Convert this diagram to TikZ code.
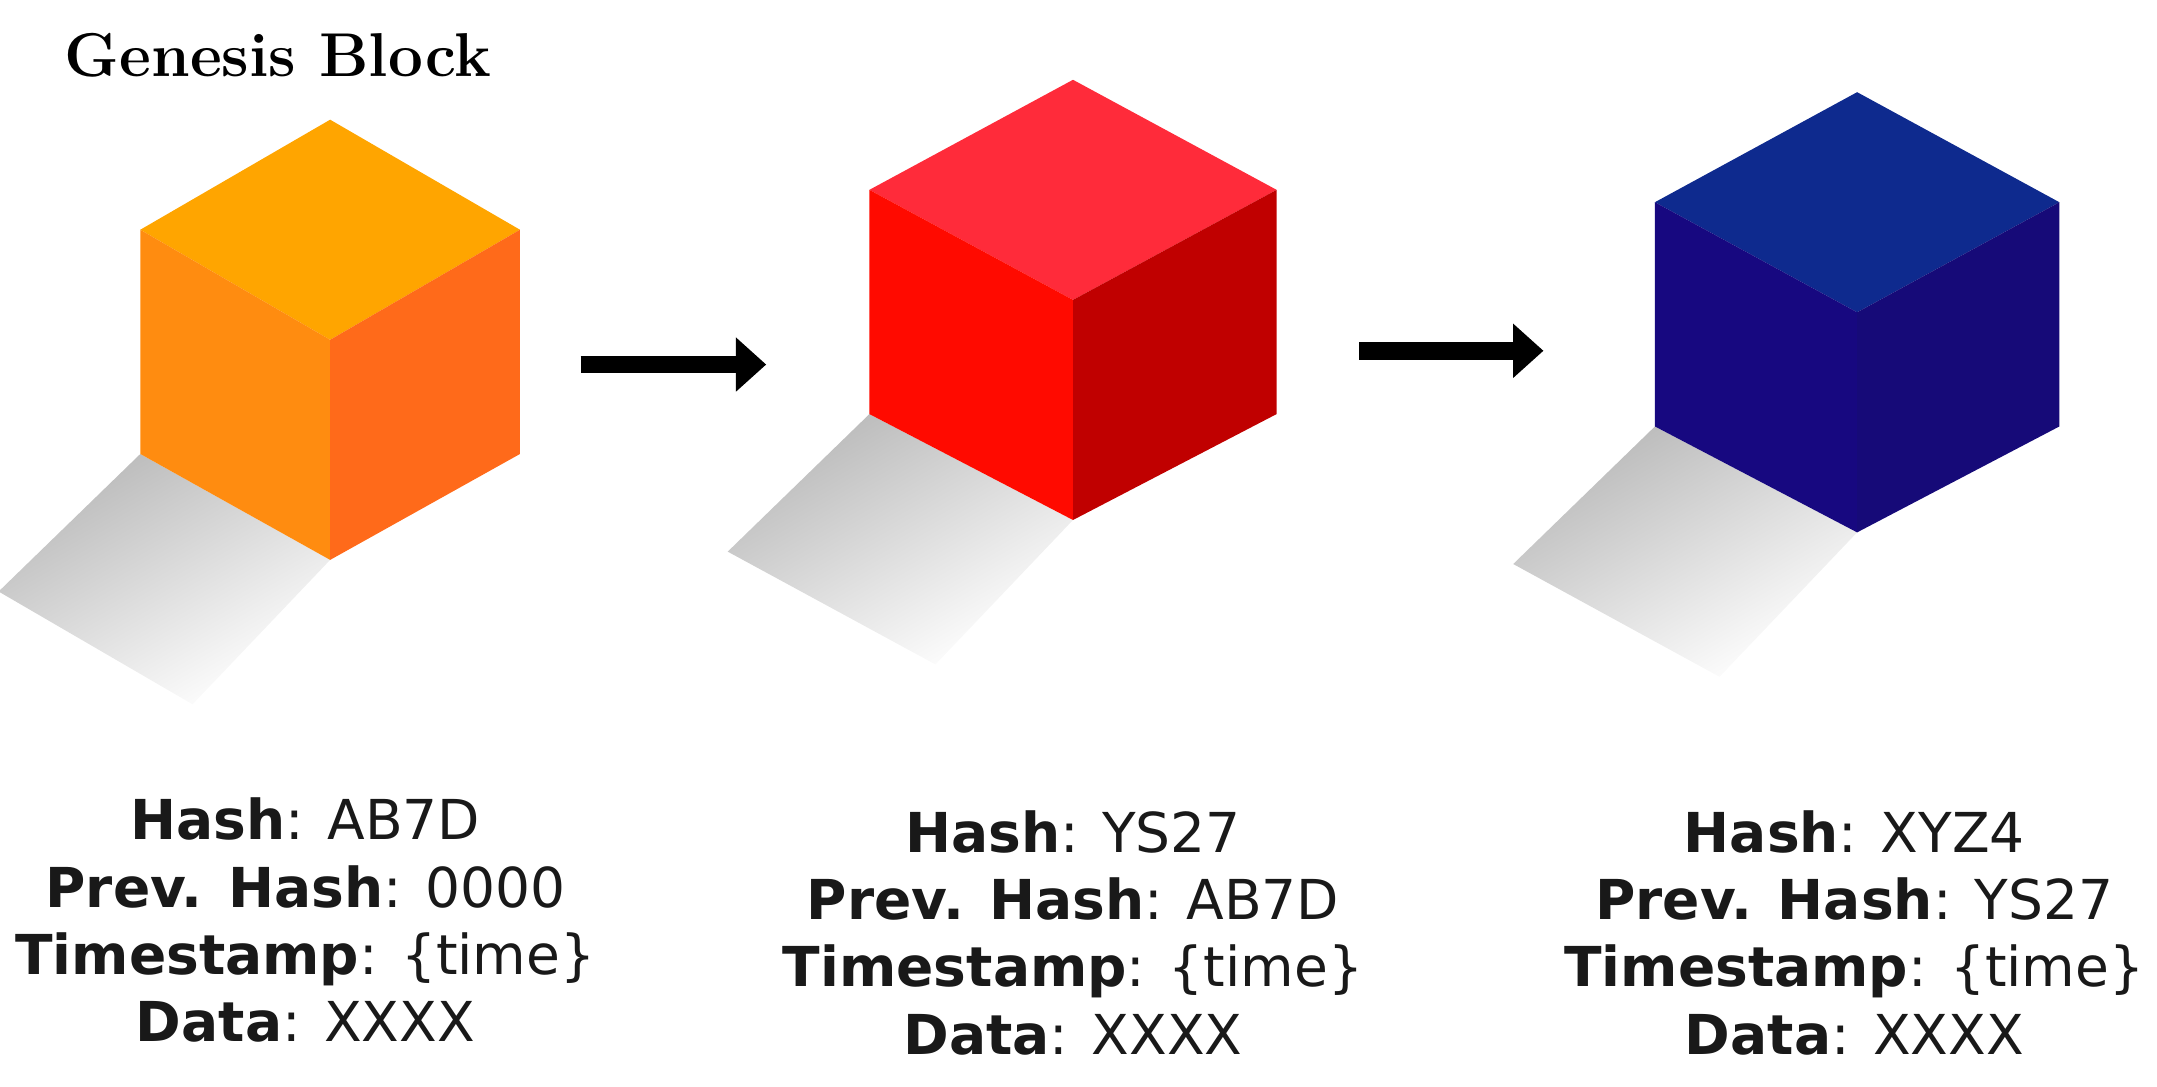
\documentclass[tikz,border=0pt]{standalone}
\usepackage{fontspec}
\newfontfamily\lblfont{DejaVu Sans}
\usetikzlibrary{arrows.meta}
\begin{document}
\begin{tikzpicture}[x=1pt,y=-1pt,
  lbl/.style={font=\lblfont\fontsize{40}{49}\selectfont,align=center,text=black!90},
  chainarrow/.style={line width=13pt,-{Triangle[length=22pt,width=38pt]}}]
\useasboundingbox (0,0) rectangle (1568,790);
\definecolor{oT}{HTML}{FFA500}\definecolor{oL}{HTML}{FF8C10}\definecolor{oR}{HTML}{FF6A1A}
\definecolor{rT}{HTML}{FF2B3A}\definecolor{rL}{HTML}{FF0A00}\definecolor{rR}{HTML}{C00000}
\definecolor{bT}{HTML}{0E2A8E}\definecolor{bL}{HTML}{170880}\definecolor{bR}{HTML}{160A78}
\newcommand{\mycube}[7]{%
  \shade[top color=gray!55,bottom color=white,shading angle=30] (#1-#3,#2+243) -- (#1,#2+320) -- (#1-100,#2+425) -- (#1-#3-103,#2+343) -- cycle;
  \fill[#5] (#1,#2) -- (#1+#3,#2+80) -- (#1,#2+160) -- (#1-#3,#2+80) -- cycle;
  \fill[#6] (#1-#3,#2+80) -- (#1,#2+160) -- (#1,#2+320) -- (#1-#3,#2+243) -- cycle;
  \fill[#7] (#1+#3,#2+80) -- (#1,#2+160) -- (#1,#2+320) -- (#1+#3,#2+243) -- cycle;
  \coordinate (#4) at (#1,#2+170);}
\mycube{240}{87}{138}{c1}{oT}{oL}{oR}
\mycube{780}{58}{148}{c2}{rT}{rL}{rR}
\mycube{1350}{67}{147}{c3}{bT}{bL}{bR}
\coordinate (a1s) at (422,265); \coordinate (a1e) at (557,265);
\coordinate (a2s) at (988,255); \coordinate (a2e) at (1122,255);
\draw[chainarrow] (a1s) -- (a1e);
\draw[chainarrow] (a2s) -- (a2e);
\node[font=\bfseries\fontsize{45}{50}\selectfont] (gen) at (202,40) {Genesis Block};
\node[lbl] (t1) at (222,669) {\textbf{Hash}: AB7D\\\textbf{Prev. Hash}: 0000\\\textbf{Timestamp}: \{time\}\\\textbf{Data}: XXXX};
\node[lbl] (t2) at (780,678) {\textbf{Hash}: YS27\\\textbf{Prev. Hash}: AB7D\\\textbf{Timestamp}: \{time\}\\\textbf{Data}: XXXX};
\node[lbl] (t3) at (1348,678) {\textbf{Hash}: XYZ4\\\textbf{Prev. Hash}: YS27\\\textbf{Timestamp}: \{time\}\\\textbf{Data}: XXXX};
\end{tikzpicture}
\end{document}
